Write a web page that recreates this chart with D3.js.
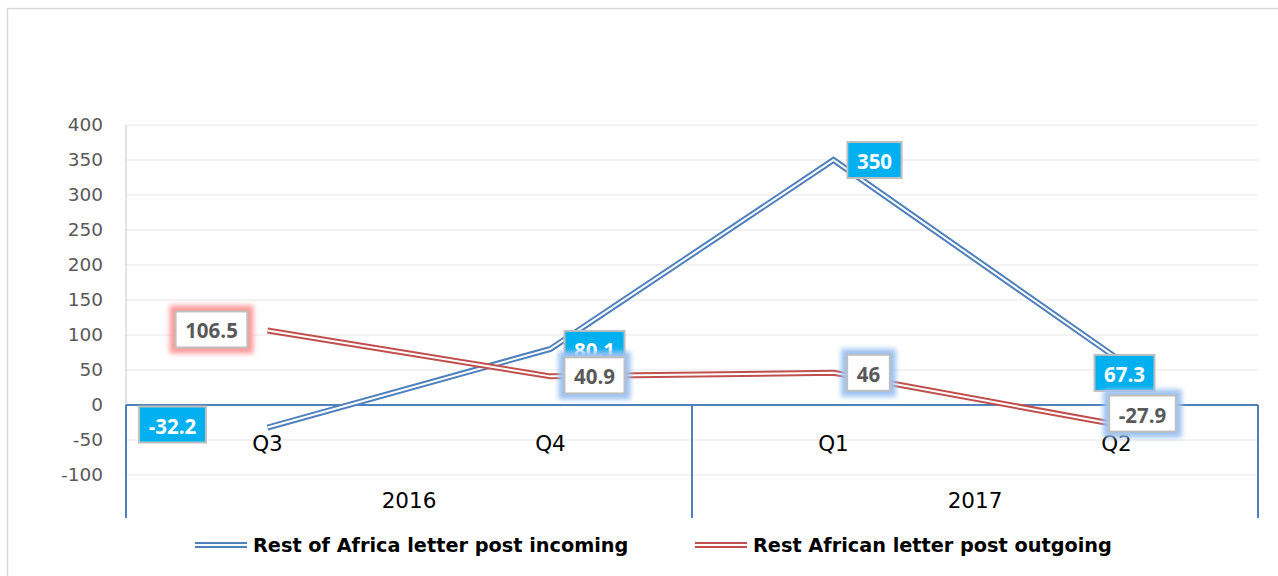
<!DOCTYPE html>
<html>
<head>
<meta charset="utf-8">
<script src="https://cdn.jsdelivr.net/npm/d3@7"></script>
<style>
  body { margin: 0; background: #fff; }
  svg { display: block; }
</style>
</head>
<body>
<svg id="chart" width="1278" height="576"></svg>
<script>
// chart data
const quarters = ['Q3', 'Q4', 'Q1', 'Q2']
const quarterYear = ['2016', '2016', '2017', '2017']
const years = ['2016', '2017']
const incoming = [-32.2, 80.1, 350, 67.3]
const outgoing = [106.5, 40.9, 46, -27.9]
const yTicks = [-100, -50, 0, 50, 100, 150, 200, 250, 300, 350, 400]

const seriesNames = ['Rest of Africa letter post incoming', 'Rest African letter post outgoing']

// label placement (offset of label centre from point), tuned by eye
const incomingLabelOffset = [[-95, -3], [44, 0], [41, 0], [8, 15]]
const outgoingLabelOffset = [[-56, -1], [44, -1], [35, 0], [26, -11]]

const blue = '#4f81bd'
const red = '#c0504d'

const svg = d3.select('#chart')

// outer chart border
svg.append('path')
  .attr('d', 'M7.5,580 L7.5,8.5 L1290,8.5')
  .attr('fill', 'none')
  .attr('stroke', '#d9d9d9')
  .attr('stroke-width', 1.5)

const x = d3.scaleBand().domain(d3.range(quarters.length)).range([126, 1258])
const y = d3.scaleLinear().domain([-100, 400]).range([475, 125])
const cx = i => x(i) + x.bandwidth() / 2

// gridlines
svg.append('g')
  .selectAll('line')
  .data(yTicks.filter(t => t !== 0))
  .join('line')
  .attr('x1', 126).attr('x2', 1258)
  .attr('y1', d => y(d)).attr('y2', d => y(d))
  .attr('stroke', '#efefef')
  .attr('stroke-width', 1.5)

// value axis (line only) + labels
svg.append('line')
  .attr('x1', 126).attr('x2', 126)
  .attr('y1', y(400)).attr('y2', y(-100))
  .attr('stroke', '#d9d9d9').attr('stroke-width', 1.5)

const yAxis = d3.axisLeft(y).tickValues(yTicks).tickSize(0).tickPadding(23)
  .tickFormat(d => String(d))
svg.append('g')
  .attr('transform', 'translate(126,0)')
  .call(yAxis)
  .call(g => g.select('.domain').remove())
  .call(g => g.selectAll('text')
    .attr('font-family', 'DejaVu Sans')
    .attr('font-size', 18.5)
    .attr('fill', '#595959'))

// category axis (crosses at 0) with year groups
const catY = y(0)
const catBottom = 518
const catAxis = svg.append('g')
catAxis.append('line')
  .attr('x1', 126).attr('x2', 1258)
  .attr('y1', catY).attr('y2', catY)
  .attr('stroke', blue).attr('stroke-width', 2)

const sepIdx = [0]
quarterYear.forEach((yr, i) => { if (i > 0 && yr !== quarterYear[i - 1]) sepIdx.push(i) })
const sepX = sepIdx.map(i => x(i)).concat([x.range()[1]])
catAxis.selectAll('line.sep')
  .data(sepX)
  .join('line')
  .attr('class', 'sep')
  .attr('x1', d => d).attr('x2', d => d)
  .attr('y1', catY).attr('y2', catBottom)
  .attr('stroke', blue).attr('stroke-width', 2)

catAxis.selectAll('text.q')
  .data(quarters)
  .join('text')
  .attr('class', 'q')
  .attr('x', (d, i) => cx(i))
  .attr('y', 451)
  .attr('text-anchor', 'middle')
  .attr('font-family', 'DejaVu Sans')
  .attr('font-size', 21.5)
  .attr('fill', '#000')
  .text(d => d)

catAxis.selectAll('text.yr')
  .data(years)
  .join('text')
  .attr('class', 'yr')
  .attr('x', d => {
    const idx = quarterYear.map((q, i) => q === d ? i : -1).filter(i => i >= 0)
    return (x(idx[0]) + x(idx[idx.length - 1]) + x.bandwidth()) / 2
  })
  .attr('y', 508)
  .attr('text-anchor', 'middle')
  .attr('font-family', 'DejaVu Sans')
  .attr('font-size', 21.5)
  .attr('fill', '#000')
  .text(d => d)

// double (compound) lines
const line = d3.line().x((d, i) => cx(i)).y(d => y(d))
function doubleLine (values, color) {
  const g = svg.append('g')
  g.append('path').attr('d', line(values))
    .attr('fill', 'none').attr('stroke', color).attr('stroke-width', 6)
    .attr('stroke-linejoin', 'miter')
  g.append('path').attr('d', line(values))
    .attr('fill', 'none').attr('stroke', '#fff').attr('stroke-width', 2)
    .attr('stroke-linejoin', 'miter')
}
doubleLine(incoming, blue)
doubleLine(outgoing, red)

// glow filter
const defs = svg.append('defs')
defs.append('filter').attr('id', 'glow')
  .attr('x', '-50%').attr('y', '-50%').attr('width', '200%').attr('height', '200%')
  .append('feGaussianBlur').attr('stdDeviation', 2.5)

function labels (values, offsets, opts) {
  const g = svg.append('g')
  values.forEach((v, i) => {
    const px = cx(i) + offsets[i][0]
    const py = y(v) + offsets[i][1]
    const t = g.append('text')
      .attr('x', px).attr('y', py + 1)
      .attr('text-anchor', 'middle')
      .attr('dominant-baseline', 'central')
      .attr('font-family', 'Open Sans')
      .attr('font-weight', 'bold')
      .attr('font-size', 20.5)
      .attr('fill', opts.text)
      .text(v)
    const bb = t.node().getBBox()
    const w = bb.width + 19
    const h = 36
    if (opts.glow) {
      g.insert('rect', () => t.node())
        .attr('x', px - w / 2 - 6).attr('y', py - h / 2 - 6)
        .attr('width', w + 12).attr('height', h + 12)
        .attr('fill', opts.glow[i])
        .attr('filter', 'url(#glow)')
    }
    g.insert('rect', () => t.node())
      .attr('x', px - w / 2).attr('y', py - h / 2)
      .attr('width', w).attr('height', h)
      .attr('fill', opts.fill)
      .attr('stroke', '#bfbfbf')
      .attr('stroke-width', 2)
  })
}
labels(incoming, incomingLabelOffset, { fill: '#00b0f0', text: '#fff' })
labels(outgoing, outgoingLabelOffset, {
  fill: '#fff',
  text: '#595959',
  glow: ['#ff9a9a', '#9cc2f2', '#9cc2f2', '#9cc2f2']
})

// legend
const legend = svg.append('g')
const legendItems = [
  { name: seriesNames[0], color: blue, x: 195 },
  { name: seriesNames[1], color: red, x: 695 }
]
legendItems.forEach(d => {
  const ly = 545
  legend.append('line')
    .attr('x1', d.x).attr('x2', d.x + 52).attr('y1', ly).attr('y2', ly)
    .attr('stroke', d.color).attr('stroke-width', 6)
  legend.append('line')
    .attr('x1', d.x).attr('x2', d.x + 52).attr('y1', ly).attr('y2', ly)
    .attr('stroke', '#fff').attr('stroke-width', 2)
  legend.append('text')
    .attr('x', d.x + 58).attr('y', ly)
    .attr('dominant-baseline', 'central')
    .attr('font-family', 'DejaVu Sans')
    .attr('font-weight', 'bold')
    .attr('font-size', 19.3)
    .attr('fill', '#000')
    .text(d.name)
})
</script>
</body>
</html>
